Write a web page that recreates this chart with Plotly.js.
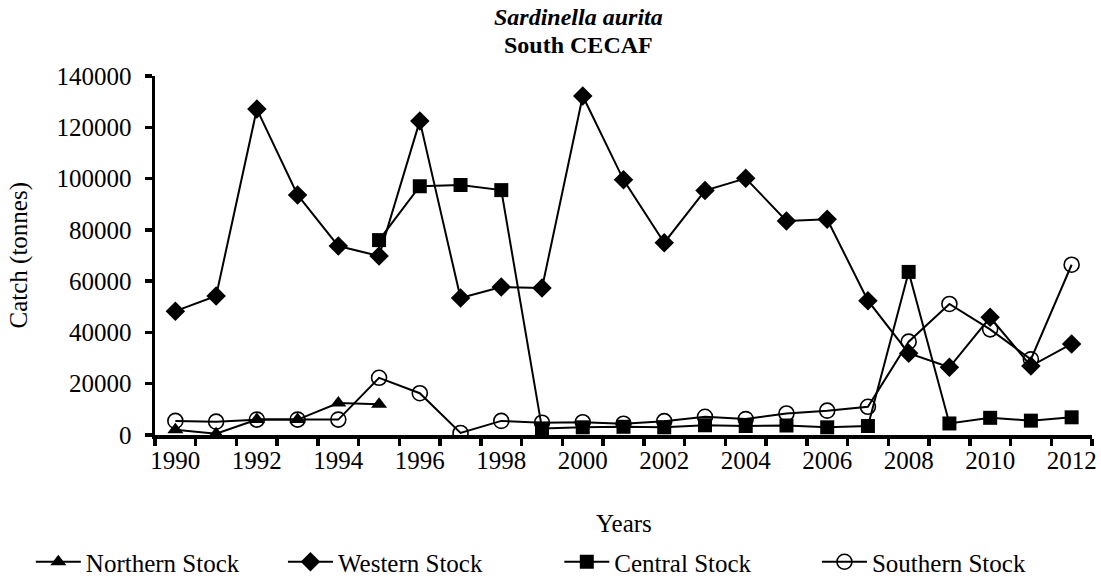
<!DOCTYPE html>
<html><head><meta charset="utf-8">
<script src="https://cdn.plot.ly/plotly-3.0.1.min.js"></script>
<style>body{margin:0;background:#fff}#c{width:1101px;height:585px}</style>
</head><body><div id="c"></div>
<script>
const years = [1990,1991,1992,1993,1994,1995,1996,1997,1998,1999,2000,2001,2002,2003,2004,2005,2006,2007,2008,2009,2010,2011,2012];
const northernYears = [1990,1991,1992,1993,1994,1995];
const northern = [2000,500,6000,6000,12500,12000];
const western = [48300,54200,127100,93600,73700,69800,122500,53400,57700,57300,132200,99500,75000,95300,100100,83500,84100,52400,31900,26400,45900,26900,35500];
const centralYears = [1995,1996,1997,1998,1999,2000,2001,2002,2003,2004,2005,2006,2007,2008,2009,2010,2011,2012];
const central = [76000,97000,97500,95500,2500,3000,3200,3000,3800,3500,3700,3000,3500,63600,4500,6700,5600,6900];
const southern = [5500,5200,6000,6000,6000,22300,16300,800,5500,4800,5000,4400,5400,7100,6200,8400,9500,11000,36400,51100,41200,29500,66400];
const labels = ['Northern Stock','Western Stock','Central Stock','Southern Stock'];
const xTickVals = [1990,1992,1994,1996,1998,2000,2002,2004,2006,2008,2010,2012];
const yTickVals = [0,20000,40000,60000,80000,100000,120000,140000];
const titleLine1 = '<b><i>Sardinella aurita</i></b>';
const titleLine2 = '<b>South CECAF</b>';
const xTitle = 'Years';
const yTitle = 'Catch (tonnes)';

const fam = "'Times New Roman', Tinos, 'Liberation Serif', 'DejaVu Serif', 'Noto Serif', serif";
const line = {color:'#000', width:2};
const legX = [0.028, 0.257, 0.508, 0.742];
const legendNames = ['legend','legend2','legend3','legend4'];
const traces = [
  {x:northernYears, y:northern, name:labels[0], legend:legendNames[0], mode:'lines+markers', line:line, marker:{symbol:'triangle-up', size:14, color:'#000'}},
  {x:years, y:western, name:labels[1], legend:legendNames[1], mode:'lines+markers', line:line, marker:{symbol:'diamond', size:15, color:'#000'}},
  {x:centralYears, y:central, name:labels[2], legend:legendNames[2], mode:'lines+markers', line:line, marker:{symbol:'square', size:14, color:'#000'}},
  {x:years, y:southern, name:labels[3], legend:legendNames[3], mode:'lines+markers', line:line, marker:{symbol:'circle-open', size:15, color:'#000', line:{width:1.6, color:'#000'}}}
];
const H = 359; // plot height px, for placing annotations
const layout = {
  width:1101, height:585,
  paper_bgcolor:'#fff', plot_bgcolor:'#fff',
  font:{family:fam, color:'#000', size:25},
  margin:{l:155, r:9, t:76, b:150},
  annotations:[
    {text:titleLine1, xref:'paper', yref:'paper', x:0.452, y:(435-17)/H, xanchor:'center', yanchor:'middle', showarrow:false, font:{family:fam, size:24, color:'#000'}},
    {text:titleLine2, xref:'paper', yref:'paper', x:0.452, y:(435-45)/H, xanchor:'center', yanchor:'middle', showarrow:false, font:{family:fam, size:24, color:'#000'}},
    {text:xTitle, xref:'paper', yref:'paper', x:0.5, y:(435-523)/H, xanchor:'center', yanchor:'middle', showarrow:false, font:{family:fam, size:25, color:'#000'}},
    {text:yTitle, xref:'paper', yref:'paper', x:(18-155)/937, y:0.5, xanchor:'center', yanchor:'middle', textangle:-90, showarrow:false, font:{family:fam, size:25, color:'#000'}}
  ],
  xaxis:{range:[1989.5,2012.5], tickmode:'array', tickvals:xTickVals, ticks:'',
    showline:true, linewidth:3.5, linecolor:'#000', showgrid:false, zeroline:false, tickfont:{family:fam, size:25},
    minor:{tick0:1989.5, dtick:1, ticks:'outside', ticklen:7, tickwidth:3.5, tickcolor:'#000', showgrid:false}},
  yaxis:{range:[0,140000], tickmode:'array', tickvals:yTickVals, tickformat:'d', ticks:'outside', ticklen:7, tickwidth:3.5, tickcolor:'#000',
    showline:true, linewidth:3.5, linecolor:'#000', showgrid:false, zeroline:false, ticklabelstandoff:8, tickfont:{family:fam, size:25}},
  showlegend:true
};
legendNames.forEach((n,i)=>{
  layout[n] = {orientation:'h', x:legX[i], xanchor:'left', xref:'container', y:-0.008, yref:'container', yanchor:'bottom', font:{family:fam, size:25}, itemwidth:45, bgcolor:'rgba(0,0,0,0)'};
});
Plotly.newPlot('c', traces, layout, {displayModeBar:false, staticPlot:true});
</script></body></html>
